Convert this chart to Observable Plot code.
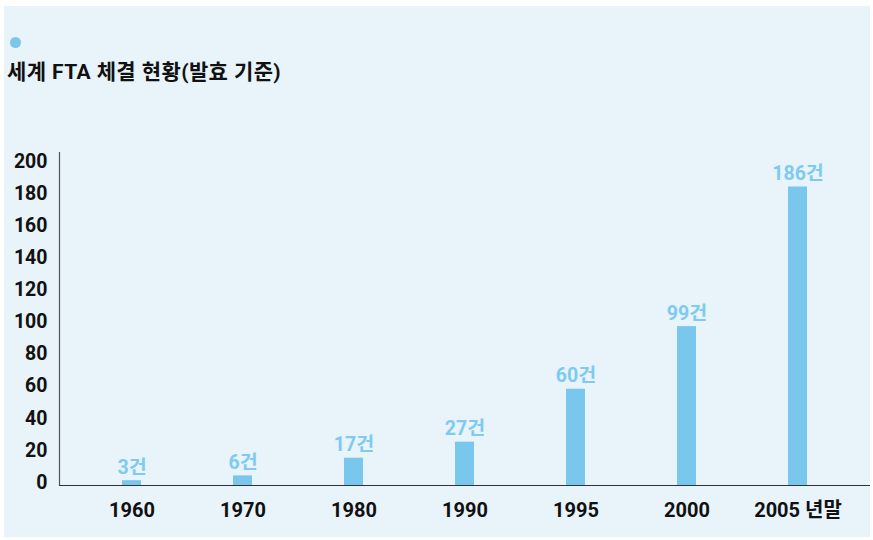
<!DOCTYPE html>
<html>
<head>
<meta charset="utf-8">
<script src="https://cdn.jsdelivr.net/npm/d3@7"></script>
<script src="https://cdn.jsdelivr.net/npm/@observablehq/plot@0.6"></script>
<style>
  html, body { margin: 0; padding: 0; background: #ffffff; }
  #wrap { position: relative; width: 873px; height: 540px; overflow: hidden; font-family: Roboto, "Noto Sans CJK KR", sans-serif; }
  #panel { position: absolute; left: 4px; top: 6px; width: 866px; height: 531px; background: #e8f3fa; }
  #dot { position: absolute; left: 10px; top: 37px; width: 11px; height: 11px; border-radius: 50%; background: #79c7ec; }
  #title { position: absolute; left: 7px; top: 62px; font-size: 21px; line-height: 21px; letter-spacing: 0.4px; font-weight: 700; color: #111; white-space: nowrap; }
  #chart { position: absolute; left: 0; top: 0; }
</style>
</head>
<body>
<div id="wrap">
  <div id="panel"></div>
  <div id="dot"></div>
  <div id="title">세계 FTA 체결 현황(발효 기준)</div>
  <div id="chart"></div>
</div>
<script>
const periods = ["1960", "1970", "1980", "1990", "1995", "2000", "2005 년말"];
const counts = [3, 6, 17, 27, 60, 99, 186];
const countLabels = ["3건", "6건", "17건", "27건", "60건", "99건", "186건"];
const yTicks = [0, 20, 40, 60, 80, 100, 120, 140, 160, 180, 200];

const data = periods.map((p, i) => ({period: p, count: counts[i], label: countLabels[i]}));

const font = "Roboto, Noto Sans CJK KR, sans-serif";
const barColor = "#79c7ec";

const chart = Plot.plot({
  width: 873,
  height: 540,
  marginTop: 152,
  marginBottom: 55,
  marginLeft: 59,
  marginRight: 3,
  style: {background: "transparent", fontFamily: font, overflow: "visible"},
  x: {domain: periods, paddingInner: 0.829, paddingOuter: 0.558, align: 0.5, label: null},
  y: {domain: [0, 207.5], label: null},
  marks: [
    Plot.barY(data, {x: "period", y: "count", fill: barColor}),
    Plot.text(data, {x: "period", y: "count", text: "label", lineAnchor: "bottom", dy: -7,
      fill: "#7fcbef", fontSize: 19.5, fontWeight: 700, fontFamily: font}),
    Plot.axisY({ticks: yTicks, tickSize: 0, tickPadding: 12, fontSize: 19.5, fontWeight: 700,
      fill: "#111", dy: -3, label: null}),
    Plot.axisX({tickSize: 0, tickPadding: 17, fontSize: 20, fontWeight: 700, fill: "#111", label: null}),
    Plot.frame({anchor: "left", stroke: "#555", strokeWidth: 1.2}),
    Plot.ruleY([0], {stroke: "#333", strokeWidth: 1.2})
  ]
});
document.getElementById("chart").appendChild(chart);
</script>
</body>
</html>
